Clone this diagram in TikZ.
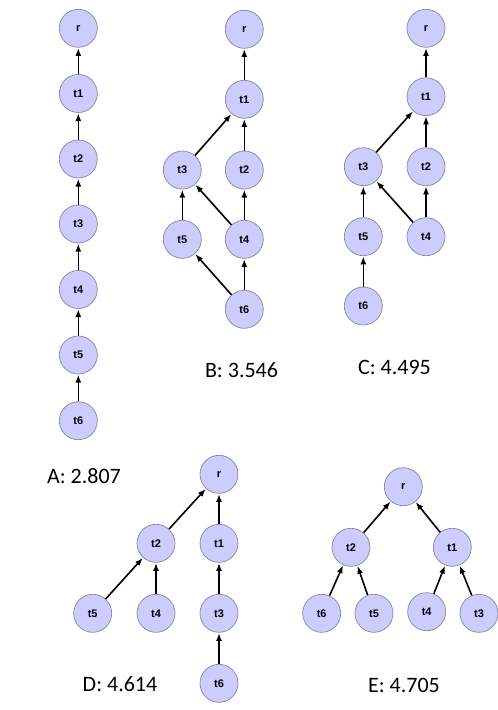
\documentclass[tikz,border=0pt]{standalone}
\usepackage{fontspec}
\setmainfont{Carlito}
\newfontfamily\nodefont{Liberation Sans}
\usetikzlibrary{arrows.meta}
\definecolor{nodefill}{RGB}{204,204,255}
\definecolor{nodeline}{RGB}{135,135,150}
\tikzset{
  tnode/.style={circle, fill=nodefill, draw=nodeline, line width=0.7pt, minimum size=38pt, inner sep=0pt, font=\nodefont\bfseries\fontsize{11}{13}\selectfont},
  edge/.style={-{Latex[length=8pt,width=6pt]}, line width=1.6pt, black, shorten >=0.3pt},
  score/.style={font=\fontsize{22}{26}\selectfont, inner sep=0pt}
}
\begin{document}
\begin{tikzpicture}[x=1pt,y=-1pt]
\useasboundingbox[fill=white] (0,0) rectangle (498,710);
% A
\node[tnode] (ar) at (78.3,28.3) {r};
\node[tnode] (a1) at (78.3,93.5) {t1};
\node[tnode] (a2) at (78.3,159) {t2};
\node[tnode] (a3) at (78.3,224) {t3};
\node[tnode] (a4) at (78.3,289.5) {t4};
\node[tnode] (a5) at (78.3,355) {t5};
\node[tnode] (a6) at (78.3,420.7) {t6};
\draw[edge] (a1) -- (ar);
\draw[edge] (a2) -- (a1);
\draw[edge] (a3) -- (a2);
\draw[edge] (a4) -- (a3);
\draw[edge] (a5) -- (a4);
\draw[edge] (a6) -- (a5);
\node[score] (la) at (84,476) {A: 2.807};
% B
\node[tnode] (br) at (244.3,29.3) {r};
\node[tnode] (b1) at (244.3,99.3) {t1};
\node[tnode] (b3) at (182.3,170) {t3};
\node[tnode] (b2) at (244.3,170) {t2};
\node[tnode] (b5) at (182.3,239.3) {t5};
\node[tnode] (b4) at (244.3,239.3) {t4};
\node[tnode] (b6) at (244.3,309.3) {t6};
\draw[edge] (b1) -- (br);
\draw[edge] (b3) -- (b1);
\draw[edge] (b2) -- (b1);
\draw[edge] (b5) -- (b3);
\draw[edge] (b4) -- (b3);
\draw[edge] (b4) -- (b2);
\draw[edge] (b6) -- (b5);
\draw[edge] (b6) -- (b4);
\node[score] (lb) at (241.5,370) {B: 3.546};
% C
\node[tnode] (cr) at (426,28.3) {r};
\node[tnode] (c1) at (426,96.7) {t1};
\node[tnode] (c3) at (363.3,166.7) {t3};
\node[tnode] (c2) at (426,166.7) {t2};
\node[tnode] (c5) at (363.3,236.7) {t5};
\node[tnode] (c4) at (426,236.7) {t4};
\node[tnode] (c6) at (363.3,306) {t6};
\draw[edge] (c1) -- (cr);
\draw[edge] (c3) -- (c1);
\draw[edge] (c2) -- (c1);
\draw[edge] (c5) -- (c3);
\draw[edge] (c4) -- (c3);
\draw[edge] (c4) -- (c2);
\draw[edge] (c6) -- (c5);
\node[score] (lc) at (394.5,367) {C: 4.495};
% D
\node[tnode] (dr) at (219,474.3) {r};
\node[tnode] (d2) at (156,543.3) {t2};
\node[tnode] (d1) at (219,543.3) {t1};
\node[tnode] (d5) at (92.7,613.3) {t5};
\node[tnode] (d4) at (156,613.3) {t4};
\node[tnode] (d3) at (219,613.3) {t3};
\node[tnode] (d6) at (219,683.3) {t6};
\draw[edge] (d2) -- (dr);
\draw[edge] (d1) -- (dr);
\draw[edge] (d5) -- (d2);
\draw[edge] (d4) -- (d2);
\draw[edge] (d3) -- (d1);
\draw[edge] (d6) -- (d3);
\node[score] (ld) at (120,684) {D: 4.614};
% E
\node[tnode] (er) at (403.3,486.7) {r};
\node[tnode] (e2) at (351,547.3) {t2};
\node[tnode] (e1) at (452.3,547.3) {t1};
\node[tnode] (e6) at (321.7,613.3) {t6};
\node[tnode] (e5) at (374,613.3) {t5};
\node[tnode] (e4) at (426.7,611.7) {t4};
\node[tnode] (e3) at (479,613.3) {t3};
\draw[edge] (e2) -- (er);
\draw[edge] (e1) -- (er);
\draw[edge] (e6) -- (e2);
\draw[edge] (e5) -- (e2);
\draw[edge] (e4) -- (e1);
\draw[edge] (e3) -- (e1);
\node[score] (le) at (404,685) {E: 4.705};
\end{tikzpicture}
\end{document}
